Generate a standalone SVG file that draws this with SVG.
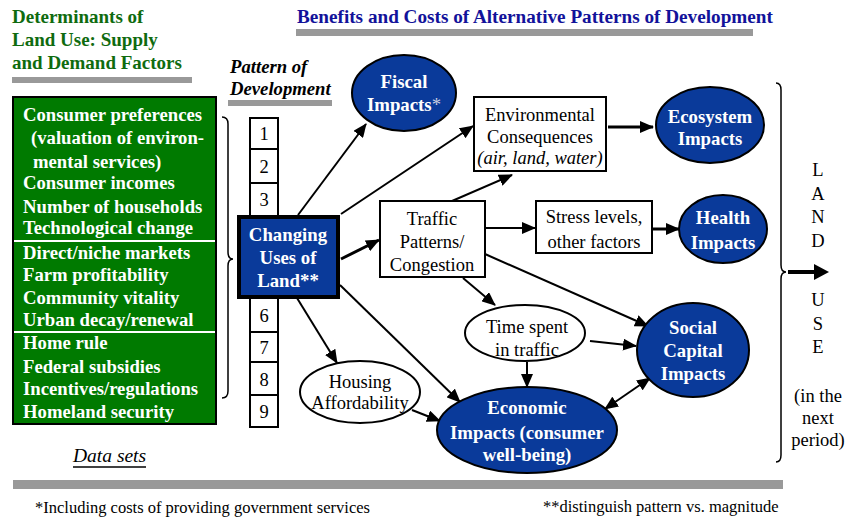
<svg xmlns="http://www.w3.org/2000/svg" width="845" height="518" viewBox="0 0 845 518" font-family="'Liberation Serif', 'DejaVu Serif', serif">
<defs>
<marker id="ah" markerUnits="userSpaceOnUse" markerWidth="14" markerHeight="12" refX="13" refY="6" orient="auto-start-reverse">
<path d="M0,0 L14,6 L0,12 z" fill="#000"/>
</marker>
<style>
text{font-family:'Liberation Serif','DejaVu Serif',serif;}
.b{font-weight:bold;}
.nv{fill:#0a3a9a;stroke:#000;stroke-width:2;}
.bx{fill:#fff;stroke:#000;stroke-width:2;}
.c{stroke:#000;stroke-width:2;fill:none;marker-end:url(#ah);}
.ck{stroke:#000;stroke-width:3;fill:none;marker-end:url(#ah);}
.bar{fill:#999;}
.lst{font-weight:bold;font-size:18.7px;fill:#fff;}
.n{font-size:18.5px;text-anchor:middle;}
.nb{font-size:18.8px;font-weight:bold;fill:#fff;text-anchor:middle;}
</style>
</defs>
<rect width="845" height="518" fill="#fff"/>

<g id="title-left">
<text class="b" font-size="19" fill="#0f6b0f" x="12" y="23">Determinants of</text>
<text class="b" font-size="19" fill="#0f6b0f" x="12" y="46">Land Use: Supply</text>
<text class="b" font-size="19" fill="#0f6b0f" x="12" y="69">and Demand Factors</text>
<rect class="bar" x="12" y="77" width="180" height="6"/>
</g>
<g id="title-right">
<text class="b" font-size="19.2" fill="#12129a" x="297" y="23">Benefits and Costs of Alternative Patterns of Development</text>
<rect class="bar" x="296" y="29" width="457" height="7"/>
</g>
<g id="title-pattern">
<text class="b" font-style="italic" font-size="18.7" x="230" y="73">Pattern of</text>
<text class="b" font-style="italic" font-size="18.7" x="230" y="95">Development</text>
<rect class="bar" x="228" y="100" width="104" height="6"/>
</g>

<g id="determinants">
<rect x="13" y="97" width="203" height="327" fill="#007a00" stroke="#000" stroke-width="2"/>
<line x1="14" y1="241" x2="215" y2="241" stroke="#fff" stroke-width="2"/>
<line x1="14" y1="332" x2="215" y2="332" stroke="#fff" stroke-width="2"/>
<text class="lst" x="23" y="121">Consumer preferences</text>
<text class="lst" x="31" y="144">(valuation of environ-</text>
<text class="lst" x="33" y="168">mental services)</text>
<text class="lst" x="23" y="189">Consumer incomes</text>
<text class="lst" x="23" y="213">Number of households</text>
<text class="lst" x="23" y="234">Technological change</text>
<text class="lst" x="23" y="259">Direct/niche markets</text>
<text class="lst" x="23" y="281">Farm profitability</text>
<text class="lst" x="23" y="304">Community vitality</text>
<text class="lst" x="23" y="326">Urban decay/renewal</text>
<text class="lst" x="23" y="349">Home rule</text>
<text class="lst" x="23" y="373">Federal subsidies</text>
<text class="lst" x="23" y="395">Incentives/regulations</text>
<text class="lst" x="23" y="418">Homeland security</text>
</g>
<g id="brace-left">
<path d="M222,117 Q228,117 228,124 L228,252 Q228,259 233,259 Q228,259 228,266 L228,391 Q228,398 222,398" fill="none" stroke="#000" stroke-width="1.5"/>
</g>

<g id="data-sets">
<text font-style="italic" font-size="19.5" x="73" y="462">Data sets</text>
<line x1="73" y1="467" x2="146" y2="467" stroke="#000" stroke-width="1.5"/>
</g>

<g id="patterns">
<rect class="bx" x="250" y="118" width="28" height="31"/>
<rect class="bx" x="250" y="149" width="28" height="34"/>
<rect class="bx" x="250" y="183" width="28" height="33"/>
<rect class="bx" x="250" y="298" width="28" height="34"/>
<rect class="bx" x="250" y="332" width="28" height="30"/>
<rect class="bx" x="250" y="362" width="28" height="33"/>
<rect class="bx" x="250" y="395" width="28" height="32"/>
<text class="n" x="264" y="140">1</text>
<text class="n" x="264" y="173">2</text>
<text class="n" x="264" y="206">3</text>
<text class="n" x="264" y="322">6</text>
<text class="n" x="264" y="354">7</text>
<text class="n" x="264" y="386">8</text>
<text class="n" x="264" y="418">9</text>
</g>

<g id="connectors">
<line class="c" x1="298" y1="215" x2="366" y2="124"/>
<line class="c" x1="341" y1="214" x2="473" y2="126"/>
<line class="ck" x1="341" y1="259" x2="379" y2="240"/>
<line class="c" x1="297" y1="298" x2="337" y2="363"/>
<line class="c" x1="340" y1="285" x2="460" y2="402"/>
<line class="ck" x1="608" y1="127" x2="653" y2="127"/>
<line class="c" x1="452" y1="201" x2="512" y2="175"/>
<line class="c" x1="485" y1="228" x2="535" y2="228"/>
<line class="ck" x1="653" y1="229" x2="679" y2="229"/>
<line class="c" x1="463" y1="278" x2="495" y2="305"/>
<line class="c" x1="485" y1="254" x2="648" y2="326"/>
<line class="c" x1="590" y1="341" x2="636" y2="346"/>
<line class="c" x1="527" y1="362" x2="527" y2="387"/>
<line class="c" x1="412" y1="410" x2="440" y2="421"/>
<line x1="605" y1="409" x2="650" y2="378" stroke="#000" stroke-width="2" marker-start="url(#ah)" marker-end="url(#ah)"/>
</g>

<g id="changing-uses">
<rect x="239" y="217" width="99" height="80" fill="#0a3a9a" stroke="#000" stroke-width="4"/>
<text class="nb" x="288" y="241">Changing</text>
<text class="nb" x="288" y="264">Uses of</text>
<text class="nb" x="288" y="287">Land**</text>
</g>
<g id="fiscal">
<ellipse class="nv" cx="404" cy="93" rx="52" ry="38"/>
<text class="nb" x="404" y="88">Fiscal</text>
<text class="nb" x="404" y="111">Impacts<tspan fill="#c8cde0" font-weight="normal">*</tspan></text>
</g>
<g id="environmental">
<rect class="bx" x="474" y="97" width="132" height="74"/>
<text class="n" x="540" y="121">Environmental</text>
<text class="n" x="540" y="143">Consequences</text>
<text class="n" font-size="14" font-style="italic" x="540" y="164">(air, land, water)</text>
</g>
<g id="ecosystem">
<ellipse class="nv" cx="710" cy="125" rx="54" ry="38"/>
<text class="nb" x="710" y="123">Ecosystem</text>
<text class="nb" x="710" y="145">Impacts</text>
</g>
<g id="traffic">
<rect class="bx" x="380" y="201" width="105" height="76"/>
<text class="n" x="432" y="225">Traffic</text>
<text class="n" x="432" y="248">Patterns/</text>
<text class="n" x="432" y="271">Congestion</text>
</g>
<g id="stress">
<rect class="bx" x="536" y="201" width="116" height="52"/>
<text class="n" x="594" y="223">Stress levels,</text>
<text class="n" x="594" y="248">other factors</text>
</g>
<g id="health">
<ellipse class="nv" cx="723" cy="229" rx="44" ry="34"/>
<text class="nb" x="723" y="224">Health</text>
<text class="nb" x="723" y="249">Impacts</text>
</g>
<g id="time-spent">
<ellipse class="bx" cx="525" cy="333" rx="60" ry="28"/>
<text class="n" font-size="19" x="527" y="333">Time spent</text>
<text class="n" font-size="19" x="527" y="356">in traffic</text>
</g>
<g id="social-capital">
<ellipse class="nv" cx="693" cy="350" rx="56" ry="47"/>
<text class="nb" x="693" y="334">Social</text>
<text class="nb" x="693" y="357">Capital</text>
<text class="nb" x="693" y="380">Impacts</text>
</g>
<g id="housing">
<ellipse class="bx" cx="360" cy="392" rx="60" ry="31"/>
<text class="n" x="360" y="388">Housing</text>
<text class="n" x="360" y="409">Affordability</text>
</g>
<g id="economic">
<ellipse class="nv" cx="527" cy="430" rx="90" ry="43"/>
<text class="nb" x="527" y="414">Economic</text>
<text class="nb" x="527" y="439">Impacts (consumer</text>
<text class="nb" x="527" y="461">well-being)</text>
</g>

<g id="land-use">
<path d="M776,83 Q781,83 781,90 L781,265 Q781,272 786,272 Q781,272 781,279 L781,455 Q781,462 776,462" fill="none" stroke="#000" stroke-width="1.5"/>
<line x1="788" y1="272" x2="816" y2="272" stroke="#000" stroke-width="4"/>
<path d="M814,264 L829,272 L814,280 z" fill="#000"/>
<text class="n" font-size="17" x="818" y="176">L</text>
<text class="n" font-size="17" x="818" y="200">A</text>
<text class="n" font-size="17" x="818" y="223">N</text>
<text class="n" font-size="17" x="818" y="247">D</text>
<text class="n" font-size="17" x="818" y="306">U</text>
<text class="n" font-size="17" x="818" y="330">S</text>
<text class="n" font-size="17" x="818" y="353">E</text>
<text class="n" font-size="17" x="818" y="402">(in the</text>
<text class="n" font-size="17" x="818" y="424">next</text>
<text class="n" font-size="17" x="818" y="446">period)</text>
</g>

<g id="footer">
<rect class="bar" x="13" y="480" width="770" height="9"/>
<text font-size="16.5" x="35" y="513">*Including costs of providing government services</text>
<text font-size="16.5" x="543" y="512">**distinguish pattern vs. magnitude</text>
</g>
</svg>
